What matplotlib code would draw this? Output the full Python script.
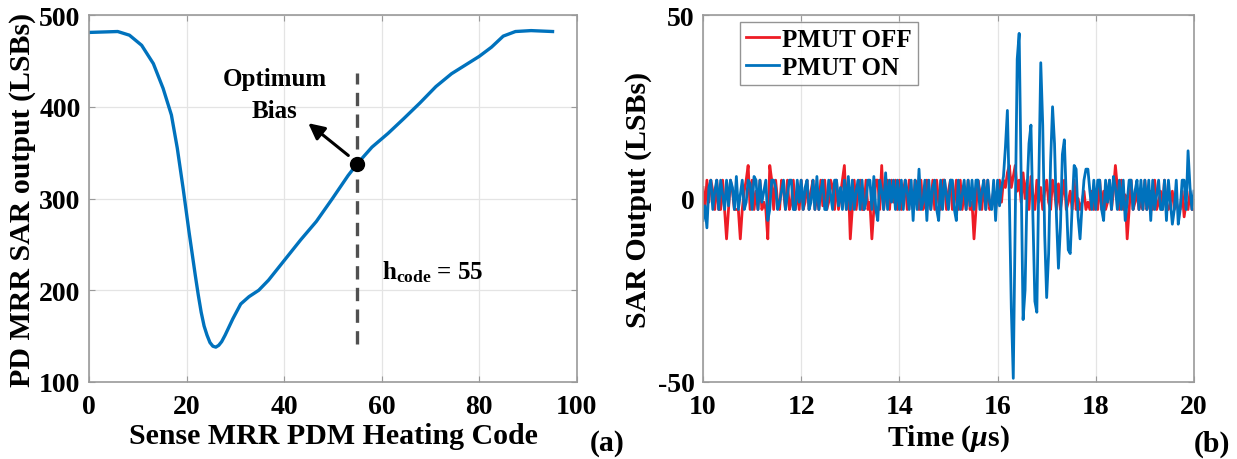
import numpy as np
import matplotlib
matplotlib.use("Agg")
import matplotlib.pyplot as plt

# (a) sense MRR sweep
heat_code = [0, 5.9, 8.3, 10.8, 13.2, 15.2, 16.9, 18.1, 19.3, 20.5, 21.8, 22.4, 23, 23.6,
             24.2, 24.8, 25.4, 26, 26.6, 27.2, 27.9, 29.5, 31.1, 32.8, 34.8, 36.8, 40.1,
             43.4, 46.6, 49.9, 53.1, 55, 58, 61.3, 64.5, 67.8, 71.1, 74.3, 77.6, 80,
             82.5, 84.9, 87.4, 90.6, 95]
sar_out = [481, 482, 478, 467, 447, 420, 391, 355, 311, 264, 216, 195, 176, 161,
           151, 143, 139, 138, 140, 144, 151, 169, 185, 193, 200, 211, 233,
           255, 275, 300, 325, 338, 356, 371, 387, 404, 422, 436, 447, 455,
           465, 477, 482, 483, 482]
opt_code = 55
opt_sar = 338

# (b) SAR output vs time, one sample every 0.04 us from 10 to 20 us
t_start, t_stop = 10.0, 20.0
pmut_off = [
    3, -3, 5, -1, 5, 2, -3, 5, -3, -3, 5, -3, -11, -3, 5, 2, -3, -3, -3, -11, -3, 2, 5, 9, -3,
    5, -3, 2, -3, 5, -3, -1, -3, -11, 9, 5, -3, 5, -1, -3, 5, 2, -3, 5, -3, -1, 5, -3, 2, -3,
    5, -3, -1, 5, -3, 2, 5, -3, 1, -3, 5, -2, 5, -3, -1, 5, 3, -3, 5, -3, 1, 5, 9, -3, 5,
    -11, -3, 5, -3, 2, 5, -3, -3, 5, -3, -1, -11, -3, 5, 5, -3, 9, -3, 2, 5, -3, 5, -1, 5, -3,
    5, -3, 2, 5, -3, 5, -1, -3, 5, 3, -3, 5, -3, -1, 5, 2, -3, 5, -3, 5, -1, -3, 5, 5, -3,
    2, 5, -3, -1, 5, -3, 5, -3, 2, -3, 5, -3, -1, -11, -3, 5, 2, -3, 5, -3, 5, -3, -1, 2, -3,
    2, 5, -1, 5, 3, 7, 9, 3, 6, 9, 2, 5, -1, 7, 0, 5, -3, 6, 1, -3, 5, -1, 3, -3, 2,
    5, -1, -3, 5, 2, -3, 4, -3, 1, 5, -3, -1, 2, -3, 5, -3, 0, -3, -1, 2, -3, -1, -3, 2, -3,
    -1, -3, 5, -3, 2, -3, -1, 5, -3, 2, 9, 3, -3, 5, -3, 1, -11, -3, 5, -3, -1, 2, -3, -1, -3,
    5, -3, -1, 2, -3, 5, -3, -1, 2, -3, 5, -3, -3, -1, 2, -3, -1, -3, -3, 2, -5, -1, -3, 2, -3,
    -3]
pmut_on = [
    -6, -2, -8, 3, 5, -3, 2, 5, -3, 5, 1, -3, 5, -2, 5, 3, -3, 6, -3, 1, 5, -3, -1, 5, 4,
    -3, 6, 5, -3, 5, -1, 2, 5, -6, -3, 5, 5, 3, -3, -1, 2, 5, -3, 1, 5, 5, -3, -3, 5, -1,
    5, -3, 3, 5, -3, -1, 5, -3, 6, -3, 2, 5, -3, -3, 5, 1, -3, 5, 5, -2, 3, -3, 5, -3, 6,
    -3, 5, -3, 2, 5, -3, 5, -3, -1, 5, 5, -3, 6, -3, -6, 5, 2, -3, 7, -3, 5, -1, 5, -3, 5,
    -3, 5, -3, 5, 2, -3, 5, -6, 5, -3, 8, -3, -1, 5, -6, 5, -3, 3, 5, -3, -6, 5, -3, 5, 1,
    -3, 5, 5, -3, -6, 5, -3, 1, 5, -3, 5, -2, 5, -3, 5, 5, -3, 2, 5, -3, 5, -1, -3, 5, -6,
    5, -2, 3, 6, 14, 24, 0, -30, -49, -5, 38, 45, 5, -33, -25, 2, 15, 20, -5, -28, -31, 5, 37, 20, -10,
    -27, -15, 10, 25, 15, -5, -19, -8, 12, 16, 0, -14, -15, -2, 9, 8, -5, -11, -2, 5, 8, 8, 2, -3, 5,
    -3, 5, 5, -3, -6, 5, -1, 5, -3, 6, 3, -3, 5, -3, 5, -6, -1, 5, 5, -3, 2, 5, -3, 5, -3,
    5, -3, 5, -6, 5, -3, 1, 5, -3, -3, 5, -6, 5, -1, -7, -3, 5, -7, -3, 5, 5, -3, 13, 3, -3,
    2]

plt.rcParams['font.family'] = ['Liberation Serif', 'DejaVu Serif']
plt.rcParams['font.weight'] = 'bold'
plt.rcParams['axes.labelweight'] = 'bold'
plt.rcParams['axes.unicode_minus'] = False
plt.rcParams['mathtext.fontset'] = 'custom'
plt.rcParams['mathtext.rm'] = 'Liberation Serif:bold'
plt.rcParams['mathtext.bf'] = 'Liberation Serif:bold'
plt.rcParams['mathtext.it'] = 'Liberation Serif:italic:bold'

BLUE = '#0072BD'
RED = '#EE1C25'
TICK_FS = 20
LABEL_FS = 21.5


def style_axes(ax):
    ax.grid(True, color='#e4e4e4', linewidth=0.9)
    ax.set_axisbelow(True)
    for sp in ax.spines.values():
        sp.set_color('#9a9a9a')
        sp.set_linewidth(1.2)
    ax.tick_params(direction='in', length=4, color='#9a9a9a', labelsize=TICK_FS,
                   top=True, right=True)
    ax.tick_params(axis='x', pad=9)
    ax.tick_params(axis='y', pad=6)
    for lab in ax.get_xticklabels() + ax.get_yticklabels():
        lab.set_fontweight('bold')


fig = plt.figure(figsize=(12.37, 4.6), dpi=100)
ax1 = fig.add_axes([0.0719, 0.1674, 0.3945, 0.7978])
ax2 = fig.add_axes([0.5683, 0.1674, 0.3969, 0.7978])

# panel (a)
ax1.plot(heat_code, sar_out, color=BLUE, linewidth=2.4, solid_joinstyle='round')
ax1.plot([opt_code, opt_code], [141, 437], color='#505050', linewidth=2.4,
         linestyle=(0, (4, 2.5)))
ax1.plot(opt_code, opt_sar, 'o', color='black', markersize=10)
ax1.annotate('', xy=(44.5, 384), xytext=(53.6, 345),
             arrowprops=dict(arrowstyle='-|>', color='black', lw=2.2,
                             mutation_scale=24))
ax1.text(38, 413, 'Optimum\nBias', ha='center', va='center', fontsize=18,
         fontweight='bold', linespacing=1.5)
ax1.text(60, 221, r'h$_{\mathrm{code}}$ = 55', ha='left', va='center',
         fontsize=18, fontweight='bold')
ax1.set_xlim(0, 100)
ax1.set_ylim(100, 500)
ax1.set_xticks([0, 20, 40, 60, 80, 100])
ax1.set_yticks([100, 200, 300, 400, 500])
ax1.set_xlabel('Sense MRR PDM Heating Code', fontsize=LABEL_FS, labelpad=2)
ax1.set_ylabel('PD MRR SAR output (LSBs)', fontsize=LABEL_FS, labelpad=2)
style_axes(ax1)

# panel (b)
time_us = np.linspace(t_start, t_stop, len(pmut_on))
ax2.plot(time_us, pmut_off, color=RED, linewidth=2.0, label='PMUT OFF')
ax2.plot(time_us, pmut_on, color=BLUE, linewidth=2.0, label='PMUT ON')
ax2.set_xlim(10, 20)
ax2.set_ylim(-50, 50)
ax2.set_xticks([10, 12, 14, 16, 18, 20])
ax2.set_yticks([-50, 0, 50])
ax2.set_xlabel(r'Time ($\mu$s)', fontsize=LABEL_FS, labelpad=2)
ax2.set_ylabel('SAR Output (LSBs)', fontsize=LABEL_FS, labelpad=4)
style_axes(ax2)
leg = ax2.legend(loc='upper left', bbox_to_anchor=(0.065, 0.995), fontsize=18,
                 frameon=True, fancybox=False, handlelength=1.3, handletextpad=0.15,
                 borderpad=0.25, labelspacing=0.2, borderaxespad=0.2)
leg.get_frame().set_edgecolor('#7a7a7a')
leg.get_frame().set_linewidth(1.0)
for txt in leg.get_texts():
    txt.set_fontweight('bold')

fig.text(0.491, 0.035, '(a)', fontsize=LABEL_FS, fontweight='bold', ha='center', va='center')
fig.text(0.98, 0.035, '(b)', fontsize=LABEL_FS, fontweight='bold', ha='center', va='center')

fig.savefig('out.png', dpi=100)
